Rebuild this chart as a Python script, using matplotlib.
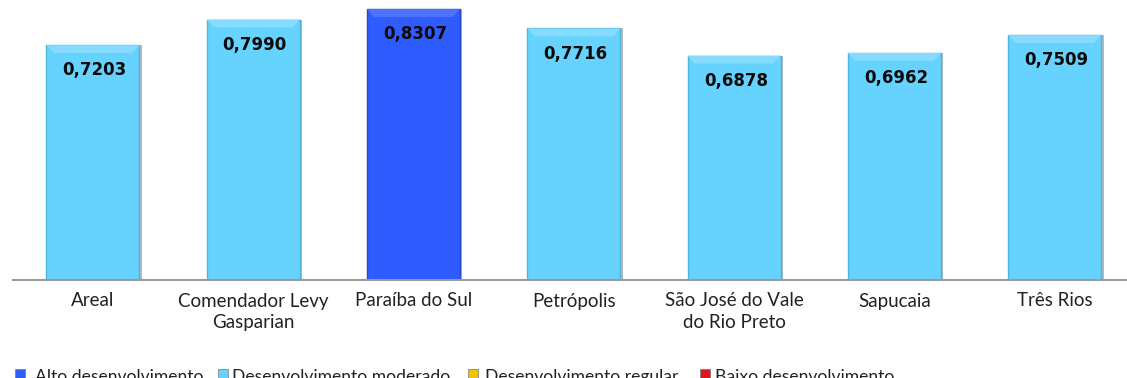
import matplotlib
matplotlib.use("Agg")
import matplotlib.pyplot as plt
from matplotlib.patches import Polygon, Rectangle

# IDHM by municipality
municipios = ["Areal", "Comendador Levy\nGasparian", "Paraíba do Sul", "Petrópolis",
              "São José do Vale\ndo Rio Preto", "Sapucaia", "Três Rios"]
idhm = [0.7203, 0.7990, 0.8307, 0.7716, 0.6878, 0.6962, 0.7509]
faixa = ["moderado", "moderado", "alto", "moderado", "moderado", "moderado", "moderado"]

legend_labels = ["Alto desenvolvimento", "Desenvolvimento moderado",
                 "Desenvolvimento regular", "Baixo desenvolvimento"]
legend_colors = ["#2e5cff", "#66d3fe", "#f2c200", "#e0141e"]

face = {"alto": "#2e5cff", "moderado": "#66d3fe"}
bevel = {"alto": "#5073ff", "moderado": "#85dcff"}
edge = {"alto": "#2448c8", "moderado": "#4cb6e0"}

W, H = 1127, 378
fig = plt.figure(figsize=(W / 100, H / 100), dpi=100)
# axes run past the right edge, like the cropped original
ax = fig.add_axes([12.8 / W, (H - 280) / H, 7 * 160.3 / W, 280 / H])

x = range(len(municipios))
bw = 0.58
cols = [face[f] for f in faixa]
ax.bar([i + 0.015 for i in x], idhm, width=bw, color="#b8b8b8", zorder=1)
bars = ax.bar(x, idhm, width=bw, color=cols, edgecolor=[edge[f] for f in faixa],
              linewidth=1.0, zorder=2)

bh = 0.024
dx = 0.045
for b, f, v in zip(bars, faixa, idhm):
    x0 = b.get_x()
    x1 = x0 + b.get_width()
    top = b.get_height()
    ax.add_patch(Polygon([(x0, top), (x1, top), (x1 - dx, top - bh), (x0 + dx, top - bh)],
                         closed=True, facecolor=bevel[f], edgecolor="none", zorder=3))
    ax.text(b.get_x() + b.get_width() / 2 + 0.01, top - 0.077, f"{v:.4f}".replace(".", ","),
            ha="center", va="center", fontsize=12, fontweight="bold",
            color="#0a0a0a", zorder=4)

ax.set_xlim(-0.5, 6.5)
ax.set_ylim(0, 280 / 326)
ax.set_xticks(list(x))
ax.set_xticklabels(municipios, fontsize=13.5, family="Lato", color="#222222",
                   linespacing=1.3)
ax.tick_params(axis="x", length=0, pad=9)
ax.set_yticks([])
for s in ["top", "right", "left"]:
    ax.spines[s].set_visible(False)
ax.spines["bottom"].set_color("#9a9a9a")
ax.spines["bottom"].set_linewidth(1.5)

# legend row along the bottom edge
sq_x = [15, 218, 468, 700]
tx_x = [35, 232, 485, 715]
for sx, tx, lab, c in zip(sq_x, tx_x, legend_labels, legend_colors):
    fig.patches.append(Rectangle((sx / W, (H - 378) / H), 10 / W, 9 / H,
                                 transform=fig.transFigure, facecolor=c,
                                 edgecolor="#777777", linewidth=0.5))
    fig.text(tx / W, (H - 377) / H, lab, fontsize=12.6, family="Lato",
             color="#222222", ha="left", va="center")

fig.savefig("out.png", dpi=100)
